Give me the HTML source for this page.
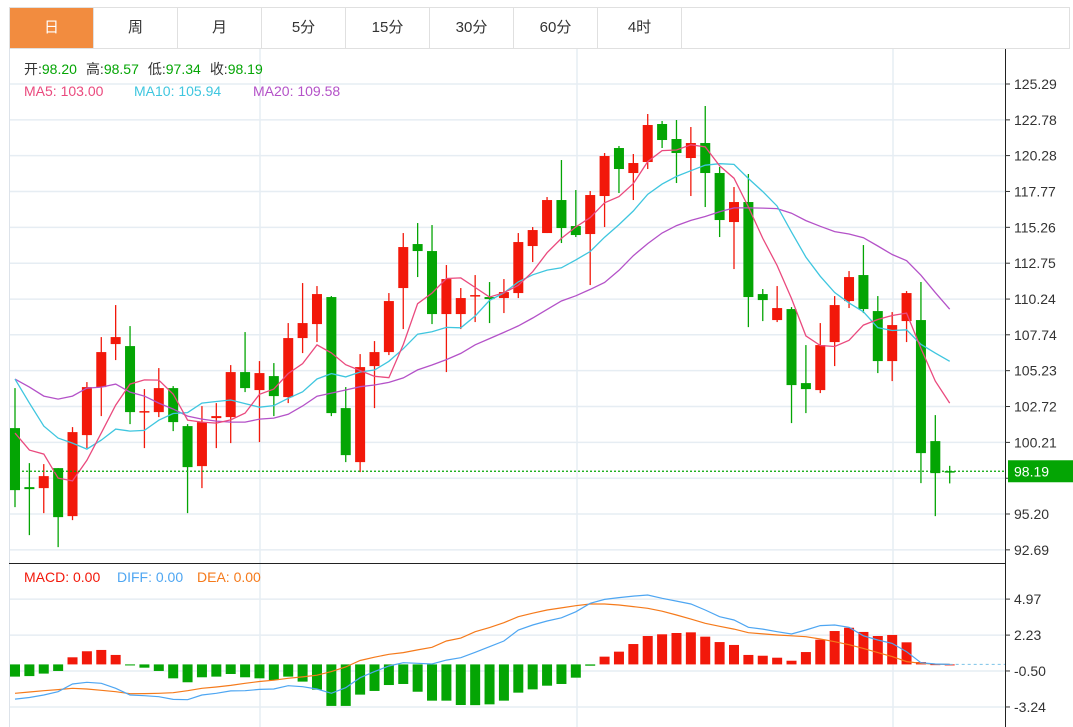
<!DOCTYPE html>
<html><head><meta charset="utf-8">
<style>
html,body{margin:0;padding:0;background:#fff;}
body{width:1073px;height:727px;overflow:hidden;position:relative;font-family:"Liberation Sans","Noto Sans CJK SC",sans-serif;}
.tabs{position:absolute;left:9px;top:7px;width:1061px;height:42px;border:1px solid #e0e0e0;box-sizing:border-box;display:flex;}
.tab{width:84px;height:40px;line-height:40px;text-align:center;font-size:15px;color:#333;border-right:1px solid #e0e0e0;box-sizing:border-box;}
.tab.on{background:#f28c3f;color:#fff;}
svg{position:absolute;left:0;top:0;}
</style></head><body>
<div class="tabs">
<div class="tab on">日</div>
<div class="tab">周</div>
<div class="tab">月</div>
<div class="tab">5分</div>
<div class="tab">15分</div>
<div class="tab">30分</div>
<div class="tab">60分</div>
<div class="tab">4时</div>
</div>
<svg id="chart" width="1073" height="727"></svg>
<script>
const opens=[101.21,97.08,97.01,98.41,95.05,100.72,104.08,107.09,106.95,102.33,102.33,104.01,101.35,98.55,101.91,101.98,105.13,103.87,104.85,103.38,107.51,108.49,110.38,102.61,98.83,105.55,106.53,111.01,114.09,113.60,109.19,109.19,110.45,110.38,110.31,110.66,113.95,114.86,117.17,115.35,114.79,117.45,120.81,119.06,119.83,122.49,121.44,120.11,121.16,119.06,115.63,117.03,110.59,108.77,109.54,104.36,103.87,107.23,110.10,111.92,109.40,105.90,108.70,108.77,100.30,98.20];
const closes=[96.87,96.94,97.85,94.98,100.93,104.08,106.53,107.58,102.33,102.40,104.01,101.63,98.48,101.63,102.05,105.13,104.01,105.06,103.45,107.51,108.56,110.59,102.26,99.32,105.48,106.53,110.10,113.88,113.60,109.19,111.64,110.31,110.52,110.24,110.73,114.23,115.07,117.17,115.21,114.72,117.52,120.25,119.34,119.76,122.42,121.37,120.46,121.16,119.06,115.77,117.03,110.38,110.17,109.61,104.22,103.94,107.02,109.82,111.78,109.54,105.90,108.42,110.66,99.46,98.06,98.19];
const highs=[104.01,98.76,98.69,98.41,101.28,104.43,107.58,109.82,108.35,103.94,105.41,104.15,101.49,102.75,102.96,105.62,107.93,105.90,105.76,108.56,111.36,111.15,110.45,104.08,106.39,107.30,110.66,114.86,115.56,115.42,112.62,111.01,111.92,111.43,111.64,114.86,115.28,117.38,119.97,117.87,117.80,120.46,120.95,120.39,123.19,122.70,122.77,122.28,123.75,119.48,118.08,118.99,110.94,111.15,109.68,107.02,108.56,110.45,112.20,114.02,110.45,109.33,110.80,111.43,102.12,98.57];
const lows=[95.68,93.72,95.26,92.88,94.77,99.81,102.05,105.97,101.49,99.81,101.98,101.00,95.26,97.01,99.81,100.16,103.73,100.23,102.05,102.96,106.46,107.23,102.05,98.83,98.13,102.61,106.32,108.14,111.78,108.49,105.13,108.14,108.63,108.56,109.26,110.31,112.83,114.86,114.16,114.58,111.22,115.28,117.66,117.17,119.34,120.81,118.36,117.45,116.68,114.58,112.34,108.28,108.70,108.63,101.56,102.26,103.66,105.55,109.61,109.26,105.06,104.50,107.23,97.36,95.05,97.34];
// moving-average values before a full window is available
const ma5Head=[100.86,99.67,99.39,97.71];
const ma10Head=[104.64,102.96,101.35,100.51,100.16,99.74,100.37,101.14,101.00];
const ma20Head=[104.64,104.08,103.45,103.24,103.45,104.01,104.08,104.29,103.73,103.45,102.96,102.54,102.05,101.84,101.70,101.63,101.63,101.84,101.91];
const macdHist=[-0.93,-0.89,-0.70,-0.50,0.54,1.0,1.1,0.72,-0.08,-0.25,-0.5,-1.06,-1.36,-0.98,-0.93,-0.73,-0.98,-1.06,-1.19,-0.93,-1.31,-1.92,-3.16,-3.16,-2.3,-2.02,-1.57,-1.49,-2.08,-2.76,-2.76,-3.09,-3.1,-3.04,-2.76,-2.15,-1.9,-1.62,-1.49,-1.01,-0.1,0.59,0.97,1.55,2.16,2.29,2.39,2.44,2.11,1.7,1.48,0.72,0.66,0.51,0.28,0.94,1.88,2.54,2.79,2.47,2.16,2.24,1.68,0.18,0.02,0];
const diffVals=[-2.64,-2.52,-2.33,-2.08,-1.49,-1.36,-1.44,-1.82,-2.33,-2.38,-2.46,-2.66,-2.69,-2.33,-2.2,-2.02,-2.0,-1.9,-1.87,-1.62,-1.7,-1.87,-2.2,-1.77,-1.01,-0.55,-0.12,0.13,0.08,0.03,0.33,0.51,0.92,1.35,1.78,2.62,3.0,3.3,3.55,4.0,4.65,4.95,5.08,5.2,5.28,5.03,4.82,4.6,4.14,3.63,3.38,2.82,2.69,2.49,2.31,2.62,2.95,3.0,2.82,2.18,1.86,1.6,0.97,0.13,0.03,0];
const deaVals=[-2.2,-2.1,-2.0,-1.92,-1.82,-1.87,-1.97,-2.08,-2.23,-2.22,-2.2,-2.15,-2.0,-1.82,-1.72,-1.6,-1.44,-1.3,-1.2,-1.06,-0.95,-0.82,-0.55,-0.2,0.3,0.55,0.77,0.9,1.1,1.3,1.78,2.0,2.49,2.8,3.17,3.63,3.9,4.14,4.3,4.47,4.6,4.6,4.52,4.4,4.27,4.05,3.76,3.45,3.13,2.9,2.69,2.41,2.32,2.24,2.18,2.11,1.93,1.73,1.5,1.22,0.9,0.59,0.21,0.08,0.02,0];
const priceTicks=["125.29","122.78","120.28","117.77","115.26","112.75","110.24","107.74","105.23","102.72","100.21","97.70","95.20","92.69"];
const macdTicks=["4.97","2.23","-0.50","-3.24"];
const lastLabel="98.19";

const NS="http://www.w3.org/2000/svg";
const svg=document.getElementById('chart');
function mk(tag,attrs,parent){const e=document.createElementNS(NS,tag);for(const k in attrs)e.setAttribute(k,attrs[k]);(parent||svg).appendChild(e);return e;}
const RED="#f2180a",GREEN="#04a504";
const X=i=>15+14.38*i;
const Y=p=>84+(125.29-p)*14.29;
const YM=v=>664.4-v*13.14;
const AX=1005;

// grid
const grid=mk('g',{});


priceTicks.forEach(t=>{const y=Y(parseFloat(t));mk('line',{x1:10,x2:AX,y1:y,y2:y,stroke:'#e6edf3','stroke-width':1.5},grid);});
macdTicks.forEach(t=>{const y=YM(parseFloat(t));mk('line',{x1:10,x2:AX,y1:y,y2:y,stroke:'#e6edf3','stroke-width':1.5},grid);});
[260,577,893].forEach(x=>{mk('line',{x1:x,x2:x,y1:49,y2:727,stroke:'#e6edf3','stroke-width':1.5},grid);});
mk('line',{x1:9.5,x2:9.5,y1:49,y2:727,stroke:'#dde3ea','stroke-width':1});
mk('line',{x1:9,x2:AX,y1:563.5,y2:563.5,stroke:'#222','stroke-width':1});
mk('line',{x1:AX+0.5,x2:AX+0.5,y1:49,y2:727,stroke:'#222','stroke-width':1});

// MA computation
function ma(n,head){return closes.map((c,i)=>{if(i<n-1)return head[i];let s=0;for(let k=i-n+1;k<=i;k++)s+=closes[k];return s/n;});}
const ma5=ma(5,ma5Head),ma10=ma(10,ma10Head),ma20=ma(20,ma20Head);

// candles
const cg=mk('g',{});


closes.forEach((c,i)=>{
  const o=opens[i],up=c>=o,col=up?RED:GREEN,x=X(i);
  const g=mk('g',{},cg);
  
  
  mk('line',{x1:x,x2:x,y1:Y(highs[i]),y2:Y(lows[i]),stroke:col,'stroke-width':1.3},g);
  const t=Y(Math.max(o,c)),b=Y(Math.min(o,c));
  mk('rect',{x:x-5,y:t,width:10,height:Math.max(1.5,b-t),fill:col},g);
});

function line(vals,yf,col,name,w){
  const d=vals.map((v,i)=>(i?'L':'M')+X(i).toFixed(1)+','+yf(v).toFixed(1)).join('');
  const p=mk('path',{d:d,fill:'none',stroke:col,'stroke-width':w||1.3});
  
  
}
line(ma20,Y,'#b452c8','ma20-line');
line(ma10,Y,'#3fc6df','ma10-line');
line(ma5,Y,'#ea4a7e','ma5-line');

// last price dotted line
const ll=mk('line',{x1:10,x2:AX,y1:Y(closes[closes.length-1]),y2:Y(closes[closes.length-1]),stroke:GREEN,'stroke-width':1.2,'stroke-dasharray':'2,2'});



// price axis labels
const ax=mk('g',{});


const lastY=Y(closes[closes.length-1]);
priceTicks.forEach(t=>{const y=Y(parseFloat(t));
  mk('line',{x1:AX,x2:AX+5,y1:y,y2:y,stroke:'#333'},ax);
  if(Math.abs(y-lastY)<16)return;
  const tx=mk('text',{x:AX+9,y:y+5,'font-size':14,fill:'#333'},ax);tx.textContent=t;});
const lb=mk('rect',{x:AX+3,y:lastY-11,width:66,height:22,fill:GREEN});


const lt=mk('text',{x:AX+9,y:lastY+5,'font-size':14,fill:'#fff'});lt.textContent=lastLabel;

// MACD
const mg=mk('g',{});


macdHist.forEach((v,i)=>{
  const y0=YM(0),y1=YM(v);
  const r=mk('rect',{x:X(i)-5,y:Math.min(y0,y1),width:10,height:Math.max(1,Math.abs(y1-y0)),fill:v>=0?RED:GREEN},mg);
  
  
});
mk('line',{x1:X(macdHist.length-1),x2:AX,y1:YM(0),y2:YM(0),stroke:'#7cc3e8','stroke-dasharray':'3,3'});
line(deaVals,YM,'#f57a1b','dea-line',1.2);
line(diffVals,YM,'#4ea6f2','diff-line',1.2);
const max=mk('g',{});


macdTicks.forEach(t=>{const y=YM(parseFloat(t));
  mk('line',{x1:AX,x2:AX+5,y1:y,y2:y,stroke:'#333'},max);
  const tx=mk('text',{x:AX+9,y:y+5,'font-size':14,fill:'#333'},max);tx.textContent=t;});
</script>
<svg width="1073" height="727" style="pointer-events:none">
<g font-size="14" font-family="Liberation Sans, Noto Sans CJK SC, sans-serif">
<text x="24" y="74"><tspan fill="#333">开:</tspan><tspan fill="#04a504">98.20</tspan><tspan fill="#333" dx="9">高:</tspan><tspan fill="#04a504">98.57</tspan><tspan fill="#333" dx="9">低:</tspan><tspan fill="#04a504">97.34</tspan><tspan fill="#333" dx="9">收:</tspan><tspan fill="#04a504">98.19</tspan></text>
<text x="24" y="96" fill="#ea4a7e">MA5: 103.00</text>
<text x="134" y="96" fill="#3fc6df">MA10: 105.94</text>
<text x="253" y="96" fill="#b452c8">MA20: 109.58</text>
<text x="24" y="582" fill="#f2180a">MACD: 0.00</text>
<text x="117" y="582" fill="#4ea6f2">DIFF: 0.00</text>
<text x="197" y="582" fill="#f57a1b">DEA: 0.00</text>
</g></svg>
</body></html>
